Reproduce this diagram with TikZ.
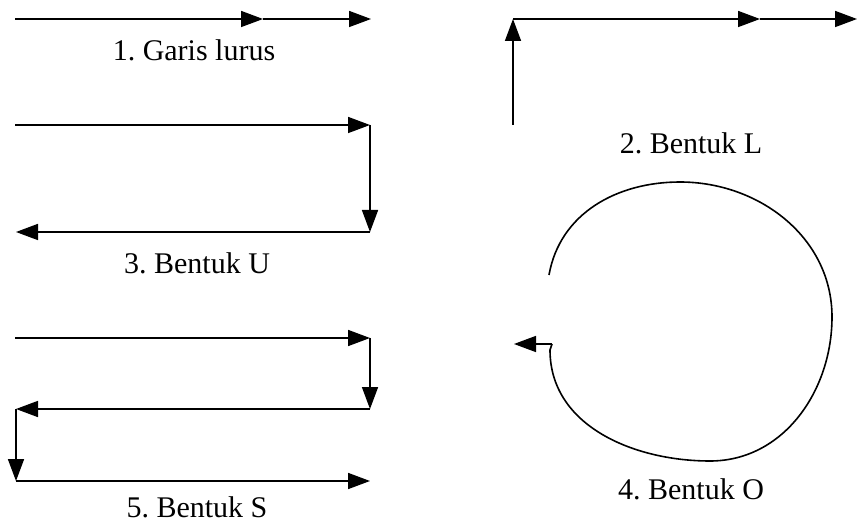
\documentclass[tikz,border=0pt]{standalone}
\usepackage{fontspec}
\setmainfont{Liberation Serif}
\usetikzlibrary{arrows.meta}
\begin{document}
\frenchspacing
\begin{tikzpicture}[x=1pt,y=-1pt,
  path/.style={line width=1.6pt,-{Triangle[length=22pt,width=16pt]}},
  plain/.style={line width=1.6pt},
  caption/.style={font=\fontsize{30}{36}\selectfont,inner sep=0pt}]
\useasboundingbox (0,0) rectangle (857,529);

% 1. straight line
\coordinate (g1) at (15,19);
\coordinate (g2) at (263,19);
\coordinate (g3) at (371,19);
\draw[path] (g1) -- (g2);
\draw[path] (g2) -- (g3);
\node[caption] (t1) at (194,50) {1. Garis lurus};

% 2. L shape
\coordinate (l1) at (513,125);
\coordinate (l2) at (513,19);
\coordinate (l3) at (760,19);
\coordinate (l4) at (857,19);
\draw[path] (l1) -- (l2);
\draw[path] (l2) -- (l3);
\draw[path] (l3) -- (l4);
\node[caption] (t2) at (691,143) {2. Bentuk L};

% 3. U shape
\coordinate (u1) at (15,125);
\coordinate (u2) at (370,125);
\coordinate (u3) at (370,232);
\coordinate (u4) at (16,232);
\draw[path] (u1) -- (u2);
\draw[path] (u2) -- (u3);
\draw[path] (u3) -- (u4);
\node[caption] (t3) at (197,263) {3. Bentuk U};

% 5. S shape
\coordinate (s1) at (15,338);
\coordinate (s2) at (370,338);
\coordinate (s3) at (370,409);
\coordinate (s4) at (16,409);
\coordinate (s5) at (16,481);
\coordinate (s6) at (370,481);
\draw[path] (s1) -- (s2);
\draw[path] (s2) -- (s3);
\draw[path] (s3) -- (s4);
\draw[path] (s4) -- (s5);
\draw[path] (s5) -- (s6);
\node[caption] (t5) at (197,507) {5. Bentuk S};

% 4. O shape (angles are in canvas directions)
\coordinate (o1) at (549,275);
\coordinate (o2) at (680,182);
\coordinate (o3) at (832,317);
\coordinate (o4) at (710,461);
\coordinate (o5) at (550,350);
\coordinate (o6) at (552,344);
\coordinate (o7) at (514,344);
\draw[plain] (o1) to[out=80,in=180] (o2)
  to[out=0,in=90] (o3)
  to[out=-90,in=0] (o4)
  to[out=180,in=-90] (o5) -- (o6);
\draw[path] (o6) -- (o7);
\node[caption] (t4) at (691,489) {4. Bentuk O};
\end{tikzpicture}
\end{document}
